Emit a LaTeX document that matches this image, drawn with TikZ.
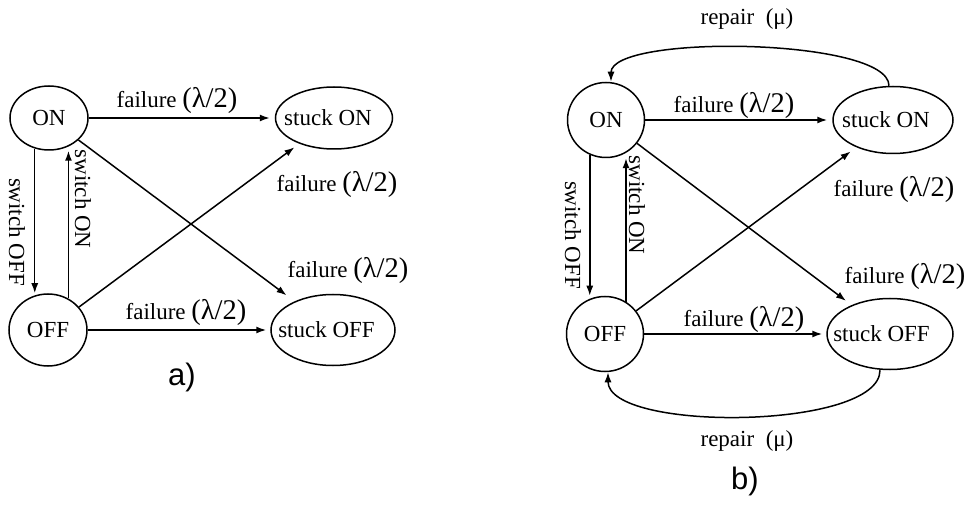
\documentclass[tikz,border=0pt]{standalone}
\usepackage{fontspec}
\setmainfont{Liberation Serif}
\newfontfamily\capfont{Liberation Sans}
\usetikzlibrary{arrows.meta,shapes.geometric}
\newcommand{\halflam}{{\fontsize{28.5}{30}\selectfont(λ/2)}}
\begin{document}
\begin{tikzpicture}[x=1pt,y=-1pt,
  font=\fontsize{23}{26}\selectfont,
  line width=1.5pt,
  >={Latex[length=10pt,width=7pt]},
  st/.style={draw,ellipse,inner sep=0pt},
  lbl/.style={inner sep=0pt},
  captionlbl/.style={font=\capfont\fontsize{31}{34}\selectfont,inner sep=0pt}]
\useasboundingbox (0,0) rectangle (970,505);
% ---------- panel a ----------
\node[st,minimum width=78pt,minimum height=64pt] (aON) at (49,118) {ON};
\node[st,minimum width=78pt,minimum height=72pt] (aOFF) at (48,330) {OFF};
\node[st,minimum width=117pt,minimum height=62pt] (asON) at (334,118) {\makebox[0pt]{\hspace*{-12pt}stuck ON}};
\node[st,minimum width=124pt,minimum height=71pt] (asOFF) at (333,330) {\makebox[0pt]{\hspace*{-13pt}stuck OFF}};
\draw[->,shorten >=5pt] (aON) -- (asON);
\draw[->,shorten >=4pt] (aOFF) -- (asOFF);
\draw[->,shorten >=10pt] (aON) -- (asOFF);
\draw[->,shorten >=6pt] (aOFF) -- (asON);
\draw[->] (aON.245) -- (aON.245 |- aOFF.north);
\draw[->] (aOFF.57) -- (aOFF.57 |- aON.south);
\node[lbl] (la1) at (177,101) {failure \halflam};
\node[lbl] (la2) at (337,185) {failure \halflam};
\node[lbl] (la3) at (348,271) {failure \halflam};
\node[lbl] (la4) at (186,313) {failure \halflam};
\node[lbl,rotate=-90] (la5) at (17,232) {switch OFF};
\node[lbl,rotate=-90] (la6) at (83,199) {switch ON};
\node[captionlbl] (capa) at (182,377) {a)};
% ---------- panel b ----------
\node[st,minimum width=77pt,minimum height=75pt] (bON) at (606,120) {ON};
\node[st,minimum width=77pt,minimum height=75pt] (bOFF) at (605,334) {OFF};
\node[st,minimum width=120pt,minimum height=67pt] (bsON) at (893,120) {\makebox[0pt]{\hspace*{-14pt}stuck ON}};
\node[st,minimum width=126pt,minimum height=71pt] (bsOFF) at (890,334) {\makebox[0pt]{\hspace*{-17pt}stuck OFF}};
\draw[->,shorten >=5pt] (bON) -- (bsON);
\draw[->,shorten >=4pt] (bOFF) -- (bsOFF);
\draw[->,shorten >=7pt] (bON) -- (bsOFF);
\draw[->,shorten >=7pt] (bOFF) -- (bsON);
\draw[->] (bON.245) -- (bON.245 |- bOFF.north);
\draw[->] (bOFF.57) -- (bOFF.57 |- bON.south);
\draw[->] ([xshift=-4pt]bsON.north) .. controls +(0,-48) and +(0,-48) .. ([xshift=5pt]bON.north);
\draw[->] ([xshift=-10pt]bsOFF.south) .. controls +(0,60) and +(0,60) .. ([xshift=3pt]bOFF.south);
\node[lbl] (lb1) at (734,106) {failure \halflam};
\node[lbl] (lb2) at (894,190) {failure \halflam};
\node[lbl] (lb3) at (905,277) {failure \halflam};
\node[lbl] (lb4) at (744,320) {failure \halflam};
\node[lbl] (lb5) at (747,19) {repair\ \ (μ)};
\node[lbl] (lb6) at (747,441) {repair\ \ (μ)};
\node[lbl,rotate=-90] (lb7) at (573,235) {switch OFF};
\node[lbl,rotate=-90] (lb8) at (637,205) {switch ON};
\node[captionlbl] (capb) at (745,481) {b)};
\end{tikzpicture}
\end{document}
